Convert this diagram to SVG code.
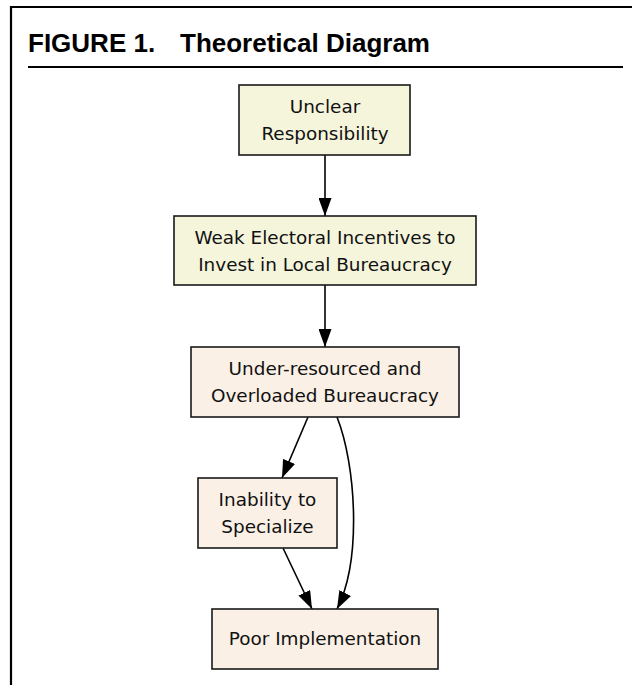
<svg xmlns="http://www.w3.org/2000/svg" width="632" height="685" viewBox="0 0 632 685">
<style>
.title{font-family:"Liberation Sans",Arial,sans-serif;font-weight:bold;font-size:26px;fill:#000}
.frame{stroke:#000;stroke-width:2.2;fill:none}
.box{stroke:#1a1a1a;stroke-width:1.6}
.beige{fill:#f5f5dc}
.linen{fill:#faf0e6}
.lbl{font-family:"DejaVu Sans",Verdana,sans-serif;font-size:18.4px;fill:#111;text-anchor:middle}
.edge{stroke:#000;stroke-width:1.6;fill:none;marker-end:url(#arr)}
</style>
<defs>
<marker id="arr" viewBox="0 0 18 13" refX="18" refY="6.5" markerWidth="18" markerHeight="13" markerUnits="userSpaceOnUse" orient="auto">
<path d="M0,0 L18,6.5 L0,13 z" fill="#000"/>
</marker>
</defs>
<rect width="632" height="685" fill="#fff"/>
<g id="frame">
<path class="frame" d="M11,685 L11,7 L632,7"/>
<text class="title" x="28" y="52">FIGURE 1.</text>
<text class="title" x="180" y="52">Theoretical Diagram</text>
<line x1="28" y1="67" x2="623" y2="67" stroke="#000" stroke-width="2.2"/>
</g>
<g id="connectors">
<path class="edge" d="M325,155 L325,216"/>
<path class="edge" d="M325,285 L325,347"/>
<path class="edge" d="M308,417 L282,478"/>
<path class="edge" d="M337,417 C356,465 362,560 337,609"/>
<path class="edge" d="M283,548 L312,609"/>
</g>
<g id="unclear">
<rect class="box beige" x="239" y="85" width="171" height="70"/>
<text class="lbl" x="325" y="113">Unclear</text>
<text class="lbl" x="325" y="140">Responsibility</text>
</g>
<g id="weak">
<rect class="box beige" x="174" y="216" width="302" height="69"/>
<text class="lbl" x="325" y="243.5">Weak Electoral Incentives to</text>
<text class="lbl" x="325" y="270.5">Invest in Local Bureaucracy</text>
</g>
<g id="under">
<rect class="box linen" x="191" y="347" width="268" height="70"/>
<text class="lbl" x="325" y="375">Under-resourced and</text>
<text class="lbl" x="325" y="402">Overloaded Bureaucracy</text>
</g>
<g id="inability">
<rect class="box linen" x="198" y="478" width="139" height="70"/>
<text class="lbl" x="267.5" y="506">Inability to</text>
<text class="lbl" x="267.5" y="533">Specialize</text>
</g>
<g id="poor">
<rect class="box linen" x="212" y="609" width="226" height="60"/>
<text class="lbl" x="325" y="645">Poor Implementation</text>
</g>
</svg>
